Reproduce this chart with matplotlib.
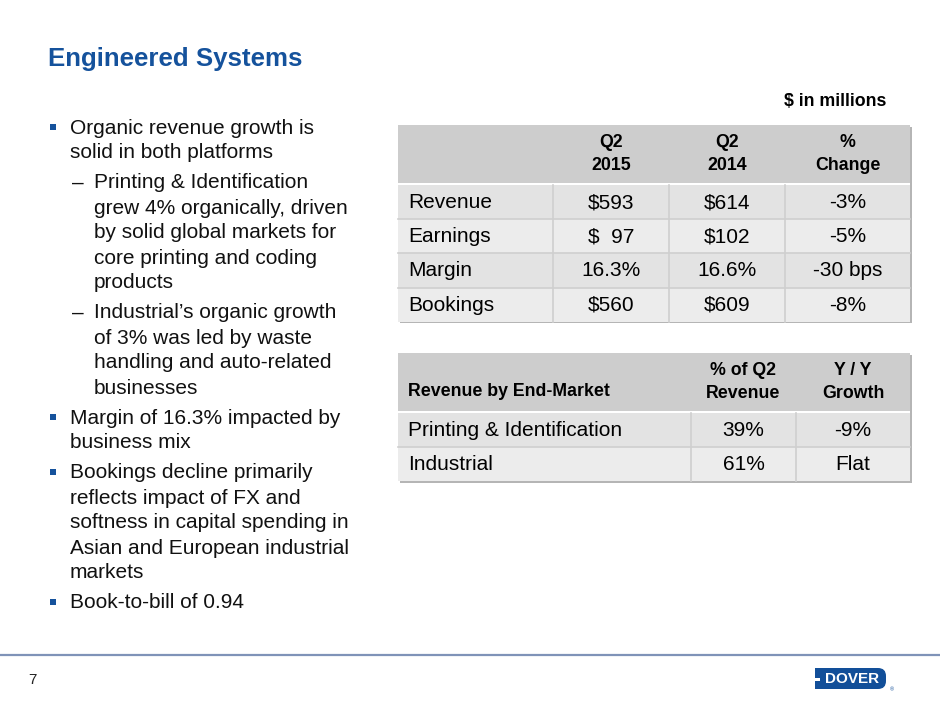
import matplotlib
matplotlib.use("Agg")
import matplotlib.pyplot as plt
from matplotlib.patches import Rectangle, FancyBboxPatch

plt.rcParams["font.family"] = ["Liberation Sans", "DejaVu Sans"]

BLUE = "#15529c"

title = "Engineered Systems"
units = "$ in millions"

# bullets: (level, [lines])
bullets = [
    (0, ["Organic revenue growth is", "solid in both platforms"]),
    (1, ["Printing & Identification", "grew 4% organically, driven",
         "by solid global markets for", "core printing and coding", "products"]),
    (1, ["Industrial\u2019s organic growth", "of 3% was led by waste",
         "handling and auto-related", "businesses"]),
    (0, ["Margin of 16.3% impacted by", "business mix"]),
    (0, ["Bookings decline primarily", "reflects impact of FX and",
         "softness in capital spending in", "Asian and European industrial",
         "markets"]),
    (0, ["Book-to-bill of 0.94"]),
]

t1_header = ["", "Q2\n2015", "Q2\n2014", "%\nChange"]
t1_rows = ["Revenue", "Earnings", "Margin", "Bookings"]
t1_q2_2015 = ["$593", "$  97", "16.3%", "$560"]
t1_q2_2014 = ["$614", "$102", "16.6%", "$609"]
t1_change = ["-3%", "-5%", "-30 bps", "-8%"]

t2_header = ["Revenue by End-Market", "% of Q2\nRevenue", "Y / Y\nGrowth"]
t2_rows = ["Printing & Identification", "Industrial"]
t2_share = ["39%", "61%"]
t2_growth = ["-9%", "Flat"]

page_no = "7"

BODY = 15
HEAD = 12.8

fig = plt.figure(figsize=(9.4, 7.05), dpi=100)
ax = fig.add_axes([0, 0, 1, 1])
ax.set_xlim(0, 940); ax.set_ylim(705, 0); ax.axis("off")

ax.text(48, 59, title, fontsize=18.6, fontweight="bold", color=BLUE, va="center")

# bullet text
y = 128
for i, (lvl, lines) in enumerate(bullets):
    if i > 0:
        y += 5
    if lvl == 0:
        ax.add_patch(Rectangle((49.5, y - 4.5), 6.5, 6.5, color=BLUE, lw=0))
        x = 70
    else:
        ax.text(72, y, "\u2013", fontsize=BODY, va="center", color="#111111")
        x = 94
    for ln in lines:
        ax.text(x, y, ln, fontsize=BODY, va="center", color="#111111")
        y += 25

ax.text(886, 102, units, fontsize=HEAD, fontweight="bold", ha="right", va="center")


def table(x0, x1, col_edges, y0, head_h, row_h, header, rows, head_left=False):
    n = len(rows)
    ytop_rows = y0 + head_h + 2
    ybot = ytop_rows + n * row_h
    # drop shadow
    ax.add_patch(Rectangle((x0 + 1.5, y0 + 1.5), x1 - x0, ybot - y0,
                           color="#b5b5b5", lw=0, zorder=1))
    ax.add_patch(Rectangle((x0, y0), x1 - x0, head_h, color="#cdcdcd", lw=0, zorder=2))
    ax.add_patch(Rectangle((x0, y0 + head_h), x1 - x0, 2, color="white", lw=0, zorder=2))
    edges = [x0] + col_edges + [x1]
    for j, h in enumerate(header):
        if not h:
            continue
        if j == 0 and head_left:
            ax.text(x0 + 10, y0 + head_h * 0.66, h, fontsize=HEAD, fontweight="bold",
                    va="center", ha="left", zorder=4)
        else:
            cx = (edges[j] + edges[j + 1]) / 2
            ax.text(cx, y0 + head_h / 2, h, fontsize=HEAD, fontweight="bold",
                    va="center", ha="center", linespacing=1.4, zorder=4)
    for i, cells in enumerate(rows):
        ry = ytop_rows + i * row_h
        ax.add_patch(Rectangle((x0, ry), x1 - x0, row_h,
                               color="#e3e3e3" if i % 2 == 0 else "#ececec", lw=0, zorder=2))
        if i > 0:
            ax.plot([x0, x1], [ry, ry], color="#cfcfcf", lw=1.2, zorder=3)
        for j, c in enumerate(cells):
            if j == 0:
                ax.text(x0 + 10, ry + row_h / 2 + 0.5, c, fontsize=BODY, va="center", zorder=4)
            else:
                cx = (edges[j] + edges[j + 1]) / 2
                ax.text(cx, ry + row_h / 2 + 0.5, c, fontsize=BODY, va="center",
                        ha="center", zorder=4)
    for ex in col_edges:
        ax.plot([ex, ex], [ytop_rows, ybot], color="#cfcfcf", lw=1.2, zorder=3)


table(398, 910, [553, 669, 785], 125, 58, 34.2, t1_header,
      list(zip(t1_rows, t1_q2_2015, t1_q2_2014, t1_change)))
table(398, 910, [691, 796], 353, 58, 34.2, t2_header,
      list(zip(t2_rows, t2_share, t2_growth)), head_left=True)

# footer
ax.plot([0, 940], [654.5, 654.5], color="#7f93b8", lw=1.6)
ax.text(28, 680, page_no, fontsize=11, va="center", color="#222222")

# logo
ax.add_patch(FancyBboxPatch((816, 668), 70, 21, boxstyle="round,pad=0,rounding_size=8",
                            color="#124f99", lw=0))
ax.add_patch(Rectangle((815, 668), 10, 21, color="#124f99", lw=0))
ax.add_patch(Rectangle((814, 677.5), 6, 3, color="white", lw=0))
ax.text(852, 679, "DOVER", fontsize=11, fontweight="bold", color="white",
        ha="center", va="center")
ax.text(890, 690, "\u00ae", fontsize=4, color="#124f99", ha="left", va="center")

fig.savefig("out.png", dpi=100)
